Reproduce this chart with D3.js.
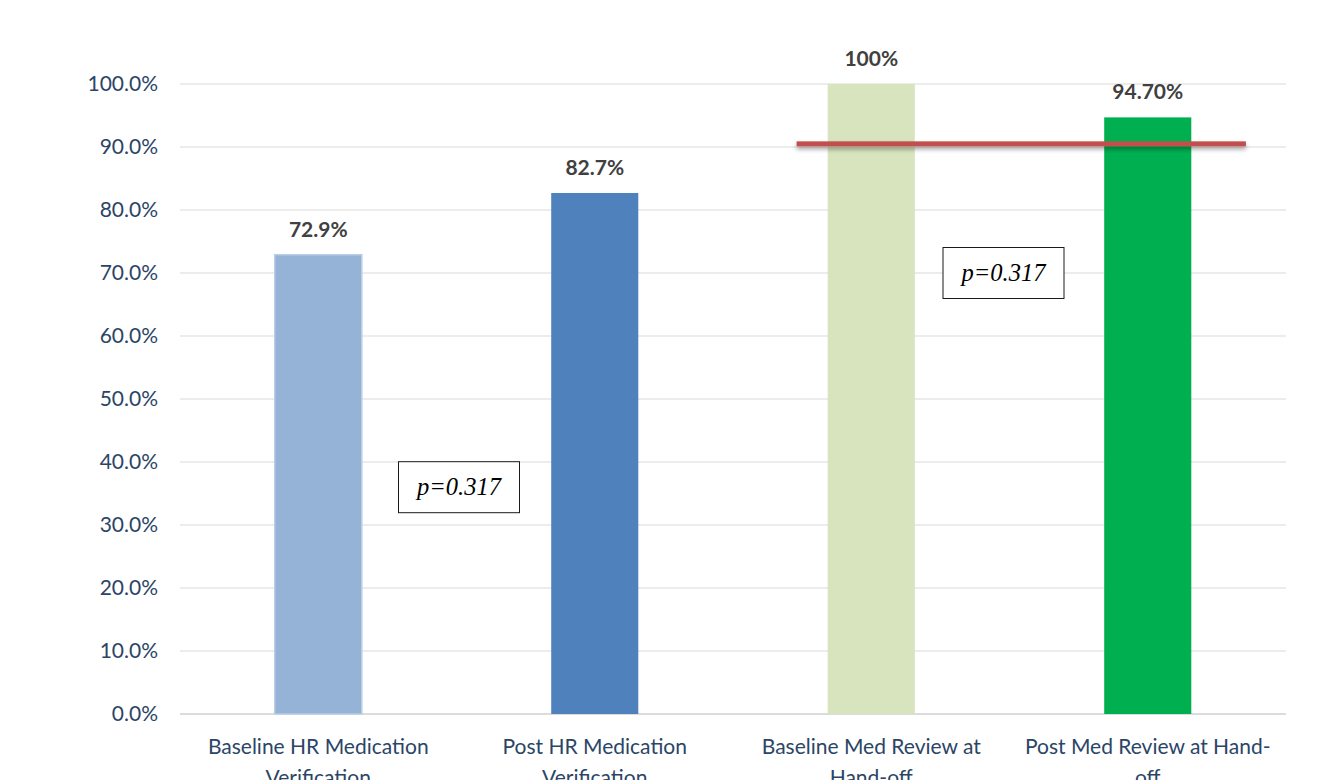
<!DOCTYPE html>
<html>
<head>
<meta charset="utf-8">
<script src="https://cdn.jsdelivr.net/npm/d3@7"></script>
<style>
  html, body { margin: 0; padding: 0; background: #fff; }
  svg { display: block; }
</style>
</head>
<body>
<svg id="chart" width="1317" height="780"></svg>
<script>
// Medication verification / hand-off review rates
const categories = [
  ["Baseline HR Medication", "Verification"],
  ["Post HR Medication", "Verification"],
  ["Baseline Med Review at", "Hand-off"],
  ["Post Med Review at Hand-", "off"]
];
const values = [0.729, 0.827, 1.0, 0.947];
const valueLabels = ["72.9%", "82.7%", "100%", "94.70%"];
const barColors = ["#95b3d7", "#4f81bd", "#d7e4bd", "#00b050"];
const yTicks = [0, 0.1, 0.2, 0.3, 0.4, 0.5, 0.6, 0.7, 0.8, 0.9, 1.0];
const targetValue = 0.905;
const pValueText = "p=0.317";
const pValuePairs = [[0, 1], [2, 3]];
const pValueLevels = [0.36, 0.70];

const svg = d3.select("#chart");
const margin = { top: 84, right: 31, bottom: 66, left: 180 };
const W = 1317, H = 780;
const innerW = W - margin.left - margin.right;
const innerH = H - margin.top - margin.bottom;

const x = d3.scaleBand().domain(d3.range(categories.length))
  .range([margin.left, margin.left + innerW]).paddingInner(0).paddingOuter(0);
const y = d3.scaleLinear().domain([0, 1]).range([margin.top + innerH, margin.top]);
const bw = x.bandwidth();
const barW = bw * 0.315;
const cx = i => x(i) + bw / 2;

const font = "Lato, 'Open Sans', sans-serif";
const textColor = "#2b4566";
const fs = 21;

// gridlines
svg.append("g").selectAll("line").data(yTicks).join("line")
  .attr("x1", margin.left).attr("x2", margin.left + innerW)
  .attr("y1", d => y(d)).attr("y2", d => y(d))
  .attr("stroke", d => d === 0 ? "#d0d0d0" : "#d9d9d9")
  .attr("stroke-width", d => d === 0 ? 1.5 : 1.2);

// y axis
const yAxis = d3.axisLeft(y).tickValues(yTicks).tickFormat(d3.format(".1%")).tickSize(0).tickPadding(22);
const ya = svg.append("g").attr("transform", `translate(${margin.left},0)`).call(yAxis);
ya.select(".domain").remove();
ya.selectAll("text").attr("font-family", font).attr("font-size", fs).attr("fill", textColor);

// bars
svg.append("g").selectAll("rect").data(values).join("rect")
  .attr("x", (d, i) => cx(i) - barW / 2)
  .attr("width", barW)
  .attr("y", d => y(d))
  .attr("height", d => y(0) - y(d))
  .attr("fill", (d, i) => barColors[i])
  .attr("stroke", (d, i) => i === 0 ? "#b9cde5" : "none")
  .attr("stroke-width", 1.5);

// value labels
svg.append("g").selectAll("text").data(values).join("text")
  .attr("x", (d, i) => cx(i))
  .attr("y", d => y(d) - 18)
  .attr("text-anchor", "middle")
  .attr("font-family", font).attr("font-weight", "bold").attr("font-size", fs)
  .attr("fill", "#404040")
  .text((d, i) => valueLabels[i]);

// category labels (two lines)
const cat = svg.append("g").selectAll("text").data(categories).join("text")
  .attr("text-anchor", "middle")
  .attr("font-family", font).attr("font-size", fs).attr("fill", textColor);
cat.each(function (lines, i) {
  const t = d3.select(this);
  lines.forEach((ln, k) => {
    t.append("tspan").attr("x", cx(i))
      .attr("y", y(0) + 40 + k * 31).text(ln);
  });
});

// target line with soft shadow
const defs = svg.append("defs");
const f = defs.append("filter").attr("id", "shadow")
  .attr("filterUnits", "userSpaceOnUse")
  .attr("x", 0).attr("y", 0).attr("width", W).attr("height", H);
f.append("feDropShadow").attr("dx", 0).attr("dy", 3).attr("stdDeviation", 2)
  .attr("flood-color", "#000").attr("flood-opacity", 0.35);
const tx1 = x(2) + bw * 0.23;
const tx2 = x(3) + bw * 0.855;
const lineH = 5;
svg.append("rect")
  .attr("x", tx1).attr("width", tx2 - tx1)
  .attr("y", y(targetValue) - lineH / 2).attr("height", lineH)
  .attr("fill", "#c0504d")
  .attr("filter", "url(#shadow)");

// p-value boxes between each pair of bars
const boxW = 121, boxH = 51;
const boxShift = [2.5, -6];
pValuePairs.forEach((pair, j) => {
  const bx = (cx(pair[0]) + cx(pair[1])) / 2 + boxShift[j];
  const by = y(pValueLevels[j]);
  const g = svg.append("g");
  g.append("rect")
    .attr("x", bx - boxW / 2).attr("y", by - boxH / 2)
    .attr("width", boxW).attr("height", boxH)
    .attr("fill", "#fff").attr("stroke", "#1a1a1a").attr("stroke-width", 1);
  g.append("text")
    .attr("x", bx).attr("y", by + 8)
    .attr("text-anchor", "middle")
    .attr("font-family", "'Liberation Serif', 'Times New Roman', serif")
    .attr("font-style", "italic").attr("font-size", 24.5)
    .attr("fill", "#000")
    .text(pValueText);
});
</script>
</body>
</html>
